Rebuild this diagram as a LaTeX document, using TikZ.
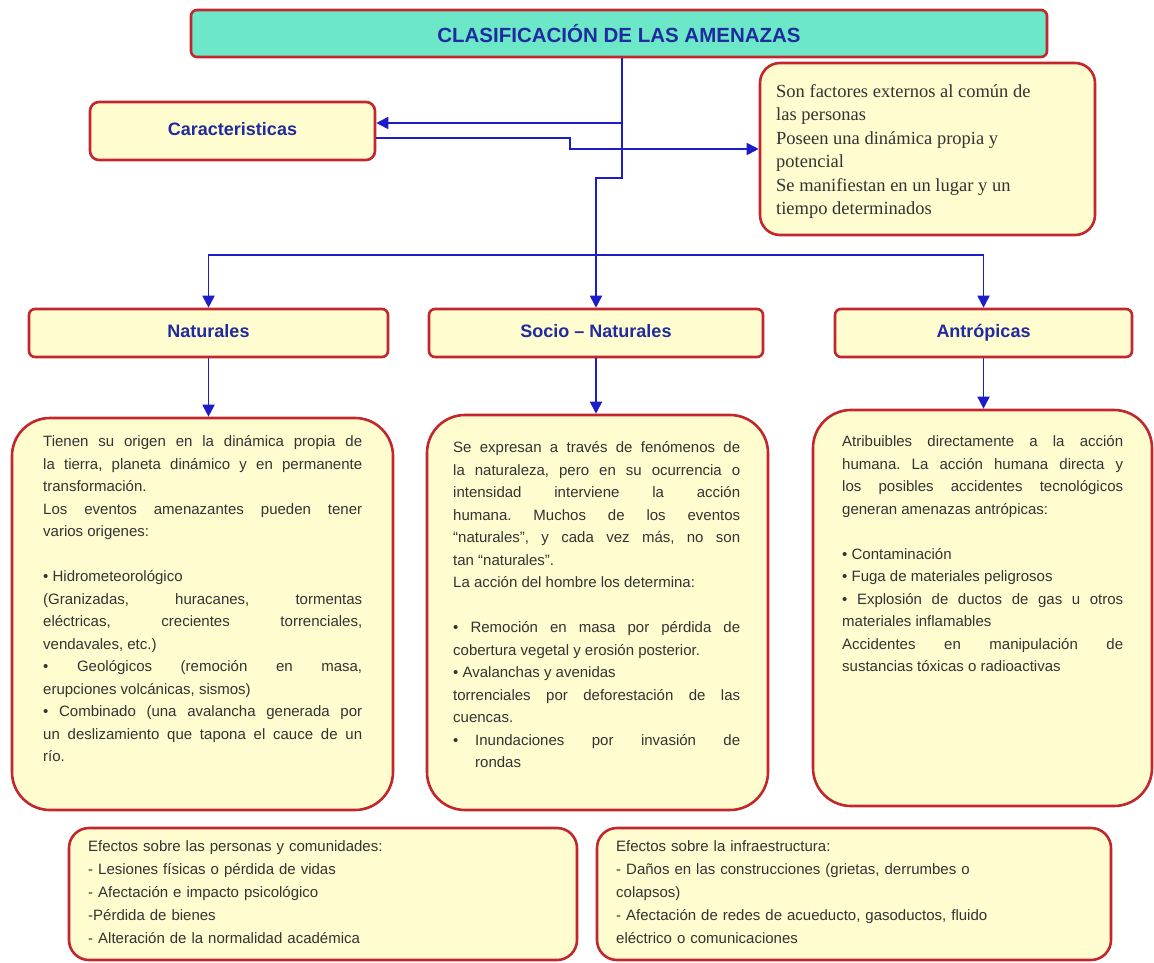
\documentclass[tikz,border=0pt]{standalone}
\usepackage{fontspec}
\setmainfont{Liberation Sans}
\newfontfamily\serifbox{Liberation Serif}
\usetikzlibrary{arrows.meta}
\definecolor{boxfill}{HTML}{FFFCCF}
\definecolor{boxline}{HTML}{C1272D}
\definecolor{titlefill}{HTML}{6CE8C8}
\definecolor{headblue}{HTML}{1F2B9E}
\definecolor{arrowblue}{HTML}{1C1CC8}
\definecolor{bodytext}{HTML}{333333}
\newcommand{\looseset}{\tolerance=10000\relax\hyphenpenalty=10000\relax\exhyphenpenalty=10000\relax\frenchspacing}
\begin{document}
\begin{tikzpicture}[x=1pt,y=-1pt,
  boxbase/.style={draw=boxline, line width=2.6pt, fill=boxfill, inner sep=0pt},
  headbox/.style={boxbase, rounded corners=6pt, font=\fontsize{18}{20}\selectfont\bfseries, text=headblue, text height=13pt, text depth=4pt},
  bigbox/.style={boxbase, rounded corners=38pt},
  lowbox/.style={boxbase, rounded corners=20pt},
  bodytxt/.style={anchor=north west, inner sep=0pt, align=justify, text=bodytext,
    font=\fontsize{15}{22.5}\selectfont\looseset},
  lowtxt/.style={anchor=north west, inner sep=0pt, align=left, text=bodytext, text width=480pt,
    font=\fontsize{15}{23}\selectfont\frenchspacing},
  conn/.style={draw=arrowblue, line width=1.8pt},
  arr/.style={conn, -{Triangle[length=12pt,width=12pt]}},
]
\useasboundingbox (0,0) rectangle (1154,963);
\fill[white] (0,0) rectangle (1154,963);

% title
\node[boxbase, fill=titlefill, rounded corners=6pt, minimum width=856pt, minimum height=47pt,
  font=\fontsize{20.5}{22}\selectfont\bfseries, text=headblue] (title) at (619,33.5) {CLASIFICACIÓN DE LAS AMENAZAS};

% caracteristicas
\node[headbox, rounded corners=9pt, minimum width=285pt, minimum height=58pt] (car) at (232.5,131) {Caracteristicas};
\node[boxbase, rounded corners=20pt, minimum width=335pt, minimum height=172pt] (carbox) at (927.5,149) {};
\node[anchor=north west, inner sep=0pt, align=left, text=bodytext,
  font=\serifbox\fontsize{18.5}{23.5}\selectfont] (cartxt) at (776,80.5)
  {\strut Son factores externos al común de\\las personas\\Poseen una dinámica propia y\\potencial\\Se manifiestan en un lugar y un\\tiempo determinados};

% level 2
\node[headbox, minimum width=359pt, minimum height=48pt] (nat) at (208.5,333) {Naturales};
\node[headbox, minimum width=334pt, minimum height=48pt] (soc) at (596,333) {Socio -- Naturales};
\node[headbox, minimum width=297pt, minimum height=48pt] (ant) at (983.5,333) {Antrópicas};

% content boxes
\node[bigbox, minimum width=381pt, minimum height=392pt] (natc) at (202.5,614) {};
\node[bigbox, minimum width=341pt, minimum height=395pt] (socc) at (597.5,612.5) {};
\node[bigbox, minimum width=339pt, minimum height=396pt] (antc) at (982.5,608) {};

\node[bodytxt, text width=319pt] (natt) at (43,431) {\strut Tienen su origen en la dinámica propia de\linebreak
la tierra, planeta dinámico y en permanente\linebreak
transformación.\\
Los eventos amenazantes pueden tener\linebreak
varios origenes:\\
\mbox{}\\
• Hidrometeorológico\\
(Granizadas, huracanes, tormentas\linebreak
eléctricas, crecientes torrenciales,\linebreak
vendavales, etc.)\\
• Geológicos (remoción en masa,\linebreak
erupciones volcánicas, sismos)\\
• Combinado (una avalancha generada por\linebreak
un deslizamiento que tapona el cauce de un\linebreak
río.};

\node[bodytxt, text width=287pt] (soct) at (453,437) {\strut Se expresan a través de fenómenos de\linebreak
la naturaleza, pero en su ocurrencia o\linebreak
intensidad interviene la acción\linebreak
humana. Muchos de los eventos\linebreak
“naturales”, y cada vez más, no son\linebreak
tan “naturales”.\\
La acción del hombre los determina:\\
\mbox{}\\
• Remoción en masa por pérdida de\linebreak
cobertura vegetal y erosión posterior.\\
• Avalanchas y avenidas\\
torrenciales por deforestación de las\linebreak
cuencas.\\
\makebox[22pt][l]{•}Inundaciones por invasión de\linebreak
\hspace*{22pt}rondas};

\node[bodytxt, text width=281pt] (antt) at (842,431) {\strut Atribuibles directamente a la acción\linebreak
humana. La acción humana directa y\linebreak
los posibles accidentes tecnológicos\linebreak
generan amenazas antrópicas:\\
\mbox{}\\
• Contaminación\\
• Fuga de materiales peligrosos\\
• Explosión de ductos de gas u otros\linebreak
materiales inflamables\\
Accidentes en manipulación de\linebreak
sustancias tóxicas o radioactivas};

% bottom boxes
\node[lowbox, minimum width=508pt, minimum height=132pt] (efp) at (323,894) {};
\node[lowbox, minimum width=514pt, minimum height=132pt] (efi) at (854,894) {};
\node[lowtxt] (efpt) at (88,835) {\strut Efectos sobre las personas y comunidades:\\
- Lesiones físicas o pérdida de vidas\\
- Afectación e impacto psicológico\\
-Pérdida de bienes\\
- Alteración de la normalidad académica};
\node[lowtxt] (efit) at (616,835) {\strut Efectos sobre la infraestructura:\\
- Daños en las construcciones (grietas, derrumbes o\\
colapsos)\\
- Afectación de redes de acueducto, gasoductos, fluido\\
eléctrico o comunicaciones};

% connectors
\coordinate (trA) at (622,123);
\coordinate (trB) at (622,178);
\coordinate (jog) at (596,178);
\coordinate (c1) at (570,138);
\coordinate (c2) at (570,149);
\coordinate (hl) at (596,255);
\draw[arr] (title.south -| trA) -- (trB) -- (jog) -- (soc.north);
\draw[arr] (trA) -- (car.east |- trA);
\draw[arr] (car.east |- c1) -- (c1) -- (c2) -- (carbox.west |- c2);
\draw[arr] (hl) -| (nat.north);
\draw[arr] (hl) -| (ant.north);
\draw[arr] (nat.south) -- (nat.south |- natc.north);
\draw[arr] (soc.south) -- (soc.south |- socc.north);
\draw[arr] (ant.south) -- (ant.south |- antc.north);
\end{tikzpicture}
\end{document}
